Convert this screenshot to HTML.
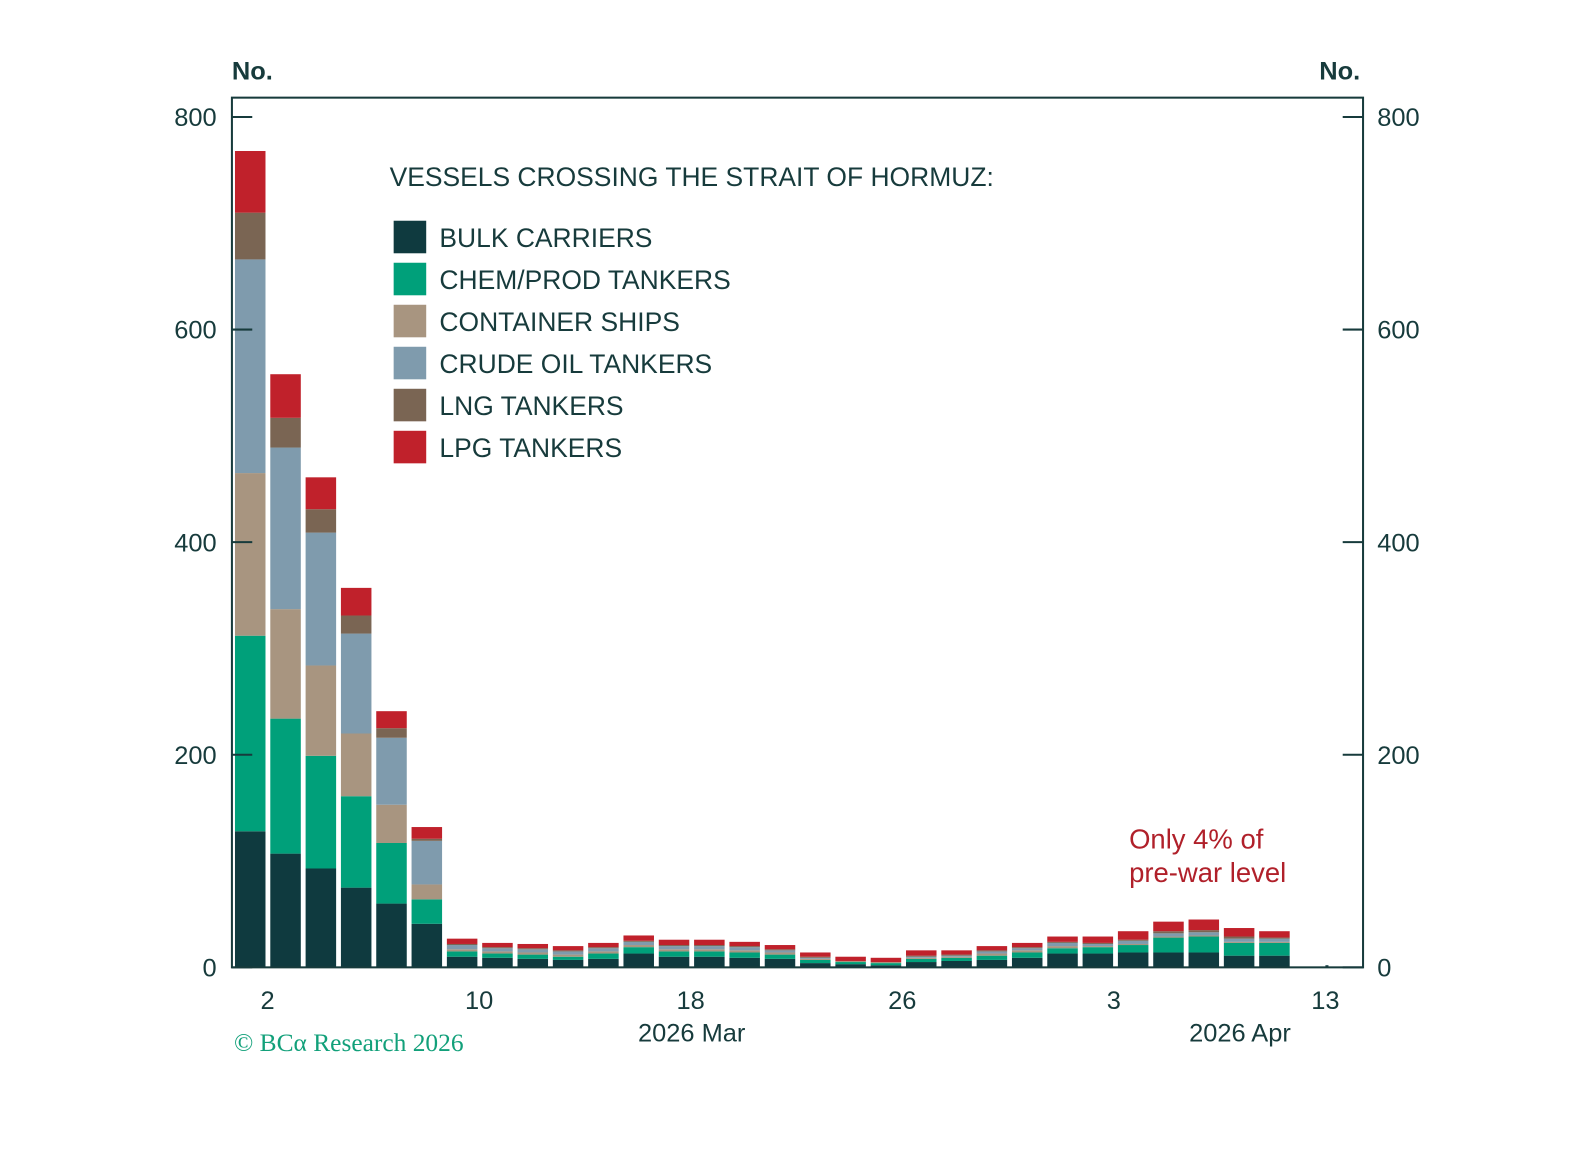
<!DOCTYPE html>
<html><head><meta charset="utf-8"><style>
body{margin:0;background:#fff;}
svg text{font-family:"Liberation Sans",sans-serif;fill:#173b3c;}
</style></head><body>
<svg width="1595" height="1144" xmlns="http://www.w3.org/2000/svg">
<g transform="scale(1.0172)">
<g id="bars"></g>
<rect x="228" y="96" width="1112" height="855" fill="none" stroke="#173b3c" stroke-width="2"/>
<g id="axes"></g>
<text x="228" y="78" font-size="25" font-weight="bold">No.</text>
<text x="1297" y="78" font-size="25" font-weight="bold">No.</text>
<text x="383" y="183" font-size="26">VESSELS CROSSING THE STRAIT OF HORMUZ:</text>
<g id="legend"></g>
<text x="1110" y="834" font-size="27" style="fill:#b0202a">Only 4% of</text>
<text x="1110" y="867" font-size="27" style="fill:#b0202a">pre-war level</text>
<text x="230" y="1033" font-size="25" style="fill:#12a07a;font-family:'Liberation Serif',serif">© BCα Research 2026</text>
<text x="680" y="1024" font-size="25" text-anchor="middle">2026 Mar</text>
<text x="1219" y="1024" font-size="25" text-anchor="middle">2026 Apr</text>
</g>
</svg>
<script>
const seriesNames=["BULK CARRIERS","CHEM/PROD TANKERS","CONTAINER SHIPS","CRUDE OIL TANKERS","LNG TANKERS","LPG TANKERS"];
const colors=["#0f3a3f","#00a07a","#a89580","#7f9bad","#7a6553","#c0212b"];
const bulk=[128,107,93,75,60,41,10,9,8,7,8,13,10,10,9,8,4,3,2,5,6,7,9,13,13,14,14,14,11,11,2];
const chem=[184,127,106,86,57,23,5,4,4,3,5,6,5,5,5,4,3,2,2,3,3,4,5,5,6,7,14,15,12,12,0];
const container=[153,103,85,59,36,14,2,2,2,2,2,2,2,2,2,2,1,1,1,1,1,2,2,2,1,1,1,1,1,1,0];
const crude=[201,152,125,94,63,41,4,3,3,3,3,3,3,3,3,2,1,0,0,1,1,2,2,3,2,3,3,3,3,3,0];
const lng=[44,28,22,17,9,2,1,1,1,1,1,1,1,1,1,1,1,0,0,1,1,1,1,1,1,1,2,2,2,1,0];
const lpg=[58,41,30,26,16,11,5,4,4,4,4,5,5,5,4,4,4,4,4,5,4,4,4,5,6,8,9,10,8,6,0];
const series=[bulk,chem,container,crude,lng,lpg];
const yTicks=[0,200,400,600,800];
const dateTicks=["2","10","18","26","3","13"];
const dateTickDays=[0,8,16,24,32,40];
const yScale=v=>951-v*1.045;
const xBar=i=>231+i*34.72;
const xDay=d=>263+d*26;
const NS="http://www.w3.org/2000/svg";
const g=document.getElementById('bars');
const last=bulk.length-1;
for(let i=0;i<bulk.length;i++){
  let acc=0;
  for(let s=0;s<series.length;s++){
    const v=series[s][i]; if(!v) continue;
    const r=document.createElementNS(NS,'rect');
    r.setAttribute('x',i===last?1303:xBar(i)); r.setAttribute('width',i===last?3:30);
    r.setAttribute('y',yScale(acc+v)); r.setAttribute('height',v*1.045);
    r.setAttribute('fill',colors[s]);
    
    
    g.appendChild(r); acc+=v;
  }
}
const ax=document.getElementById('axes');
yTicks.forEach(v=>{
  const y=yScale(v);
  [[228,248],[1320,1340]].forEach(p=>{
    const l=document.createElementNS(NS,'line');
    l.setAttribute('x1',p[0]);l.setAttribute('x2',p[1]);l.setAttribute('y1',y);l.setAttribute('y2',y);
    l.setAttribute('stroke','#173b3c');l.setAttribute('stroke-width','2');
    
    
    ax.appendChild(l);
  });
  const t1=document.createElementNS(NS,'text');
  t1.setAttribute('x',213);t1.setAttribute('y',y+9);t1.setAttribute('text-anchor','end');t1.setAttribute('font-size','25');
  t1.textContent=v;
  
  
  ax.appendChild(t1);
  const t2=document.createElementNS(NS,'text');
  t2.setAttribute('x',1354);t2.setAttribute('y',y+9);t2.setAttribute('font-size','25');
  t2.textContent=v;
  
  
  ax.appendChild(t2);
});
dateTicks.forEach((lab,k)=>{
  const t=document.createElementNS(NS,'text');
  t.setAttribute('x',xDay(dateTickDays[k]));t.setAttribute('y',992);t.setAttribute('text-anchor','middle');t.setAttribute('font-size','25');
  t.textContent=lab;
  
  
  ax.appendChild(t);
});
const lg=document.getElementById('legend');
seriesNames.forEach((n,s)=>{
  const y=217+s*41.3;
  const r=document.createElementNS(NS,'rect');
  r.setAttribute('x',387);r.setAttribute('y',y);r.setAttribute('width',32);r.setAttribute('height',32);r.setAttribute('fill',colors[s]);
  
  
  lg.appendChild(r);
  const t=document.createElementNS(NS,'text');
  t.setAttribute('x',432);t.setAttribute('y',y+26);t.setAttribute('font-size','26');
  t.textContent=n;
  
  
  lg.appendChild(t);
});
</script>
</body></html>
